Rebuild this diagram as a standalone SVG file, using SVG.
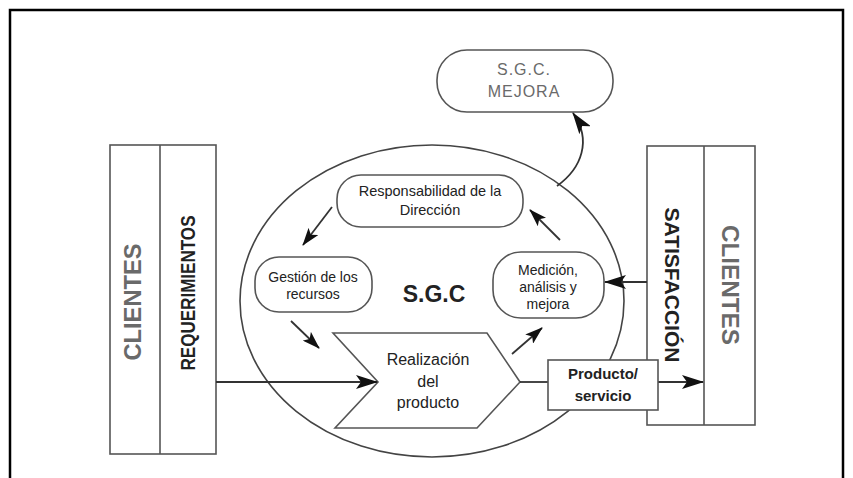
<svg xmlns="http://www.w3.org/2000/svg" width="853" height="478" viewBox="0 0 853 478">
<defs>
<style>
.box{fill:#fff;stroke:#555;stroke-width:1.6}
.ln{fill:none;stroke:#333;stroke-width:1.8}
.t{font-family:"Liberation Sans",Arial,sans-serif;fill:#222;text-anchor:middle}
.g{fill:#6a6a6a}
.b{font-weight:bold}
</style>
<marker id="ah" viewBox="0 0 22 14" refX="21" refY="7" markerWidth="22" markerHeight="14" markerUnits="userSpaceOnUse" orient="auto">
<path d="M0,0 L22,7 L0,14 L5,7 z" fill="#111"/>
</marker>
<marker id="ahs" viewBox="0 0 18 12" refX="17" refY="6" markerWidth="18" markerHeight="12" markerUnits="userSpaceOnUse" orient="auto">
<path d="M0,0 L18,6 L0,12 L4,6 z" fill="#111"/>
</marker>
</defs>
<rect width="853" height="478" fill="#fff"/>
<path d="M10,478 V10 H843 V478" fill="none" stroke="#000" stroke-width="2.5"/>

<g id="sgc">
<ellipse cx="432" cy="301" rx="192" ry="156" fill="none" stroke="#444" stroke-width="1.6"/>
<text class="t b" x="434" y="302" font-size="23" fill="#333">S.G.C</text>
</g>

<g id="clientes-left">
<rect class="box" x="110" y="145" width="106" height="309"/>
<line x1="160" y1="145" x2="160" y2="454" stroke="#555" stroke-width="1.6"/>
<text class="t g b" transform="translate(132,302) rotate(-90)" y="8.5" font-size="24" textLength="117" lengthAdjust="spacingAndGlyphs">CLIENTES</text>
<text class="t b" transform="translate(188,293) rotate(-90)" y="7" font-size="20" fill="#111" textLength="155" lengthAdjust="spacingAndGlyphs">REQUERIMIENTOS</text>
</g>

<g id="clientes-right">
<rect class="box" x="647" y="146" width="108" height="279"/>
<line x1="704" y1="146" x2="704" y2="425" stroke="#555" stroke-width="1.6"/>
<text class="t b" transform="translate(672,285) rotate(90)" y="7" font-size="20" fill="#111" textLength="155" lengthAdjust="spacingAndGlyphs">SATISFACCIÓN</text>
<text class="t g b" transform="translate(730,285) rotate(90)" y="8.5" font-size="24" textLength="120" lengthAdjust="spacingAndGlyphs">CLIENTES</text>
</g>

<g id="mejora">
<rect class="box" x="437" y="50" width="176" height="62" rx="30" stroke="#777"/>
<text class="t g" x="524" y="75" font-size="16" letter-spacing="1">S.G.C.</text>
<text class="t g" x="524" y="97" font-size="16" letter-spacing="1">MEJORA</text>
</g>

<g id="responsabilidad">
<rect class="box" x="337" y="175" width="186" height="52" rx="24"/>
<text class="t" x="430" y="196" font-size="14.5">Responsabilidad de la</text>
<text class="t" x="430" y="215" font-size="14.5">Dirección</text>
</g>

<g id="gestion">
<rect class="box" x="255" y="257" width="117" height="55" rx="24"/>
<text class="t" x="313" y="282" font-size="14">Gestión de los</text>
<text class="t" x="313" y="299" font-size="14">recursos</text>
</g>

<g id="medicion">
<rect class="box" x="493" y="252" width="111" height="66" rx="28"/>
<text class="t" x="548" y="275" font-size="14">Medición,</text>
<text class="t" x="548" y="292" font-size="14">análisis y</text>
<text class="t" x="548" y="309" font-size="14">mejora</text>
</g>

<g id="realizacion">
<path class="box" d="M333,333 L487,333 L520,382 L477,428 L335,428 L378,382 z"/>
<text class="t" x="428" y="365" font-size="16">Realización</text>
<text class="t" x="428" y="387" font-size="16">del</text>
<text class="t" x="428" y="408" font-size="16">producto</text>
</g>

<g id="connectors">
<line class="ln" x1="216" y1="382" x2="377" y2="382" marker-end="url(#ah)"/>
<line class="ln" x1="520" y1="382" x2="548" y2="382"/>
<line class="ln" x1="658" y1="382" x2="703" y2="382" marker-end="url(#ah)"/>
<line class="ln" x1="647" y1="282" x2="605" y2="282" marker-end="url(#ah)"/>
<line class="ln" x1="332" y1="207" x2="303" y2="245" marker-end="url(#ahs)"/>
<line class="ln" x1="291" y1="321" x2="319" y2="348" marker-end="url(#ahs)"/>
<line class="ln" x1="512" y1="354" x2="542" y2="328" marker-end="url(#ahs)"/>
<line class="ln" x1="560" y1="240" x2="530" y2="210" marker-end="url(#ahs)"/>
<path class="ln" d="M557,186 C582,168 592,140 573,113" marker-end="url(#ah)"/>
</g>

<g id="producto">
<rect class="box" x="548" y="360" width="110" height="50"/>
<text class="t b" x="603" y="379" font-size="15" fill="#111">Producto/</text>
<text class="t b" x="603" y="401" font-size="15" fill="#111">servicio</text>
</g>
</svg>
